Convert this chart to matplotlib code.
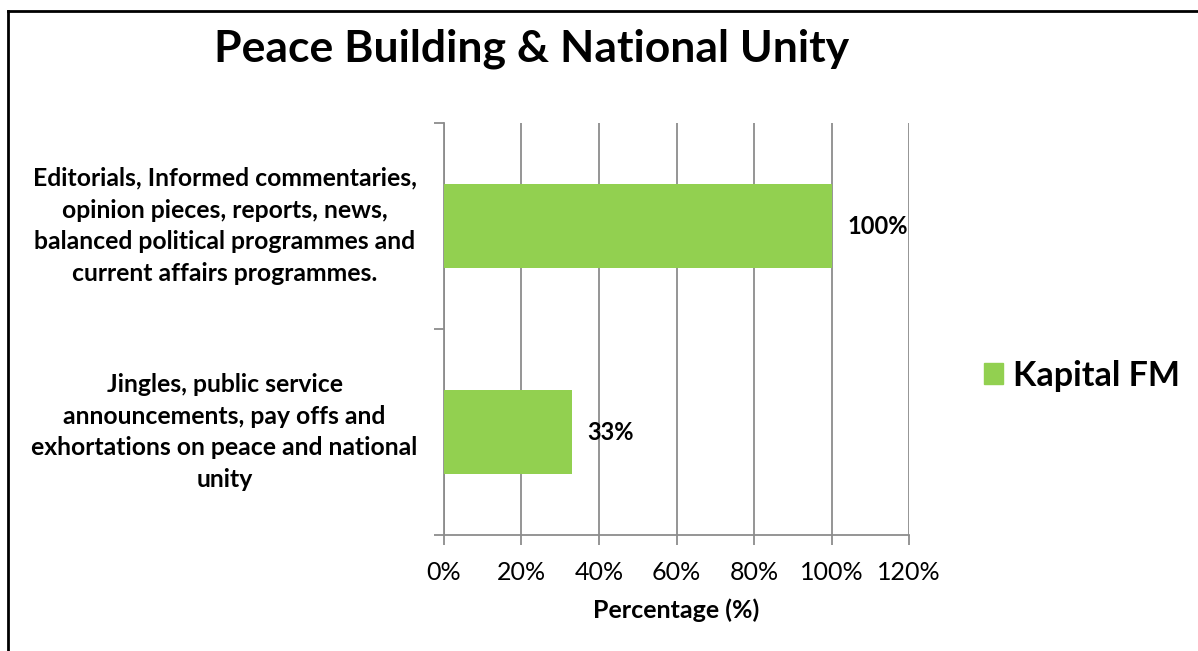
import matplotlib
matplotlib.use("Agg")
import matplotlib.pyplot as plt
from matplotlib.lines import Line2D
from matplotlib.patches import Patch

categories = [
    "Jingles, public service\nannouncements, pay offs and\nexhortations on peace and national\nunity",
    "Editorials, Informed commentaries,\nopinion pieces, reports, news,\nbalanced political programmes and\ncurrent affairs programmes.",
]
values = [33, 100]
series_name = "Kapital FM"
xticks = [0, 20, 40, 60, 80, 100, 120]

green = "#92D050"
grid_col = "#8c8c8c"
plt.rcParams['font.family'] = ['Lato', 'DejaVu Sans']

fig = plt.figure(figsize=(11.98, 6.51), dpi=100)
ax = fig.add_axes([0.3706, 0.1782, 0.3882, 0.6328])

ypos = list(range(len(categories)))
ax.barh(ypos, values, height=0.405, color=green, zorder=3)
for y, v in zip(ypos, values):
    ax.text(v + 4, y, f"{v}%", va="center", ha="left", fontsize=17,
            fontweight="bold", zorder=4)

ax.set_xlim(0, 120)
ax.set_ylim(-0.5, 1.5)
ax.set_xticks(xticks)
ax.set_xticklabels([f"{t}%" for t in xticks], fontsize=18)
ax.set_yticks(ypos)
ax.set_yticklabels(categories, fontsize=17.8, fontweight="bold",
                   ha="center", va="center", linespacing=1.47)
# pad is in points: puts the centre of the label block about 220 px left of the axis
ax.tick_params(axis="y", length=0, pad=158)
ax.set_yticks([-0.5, 0.5, 1.5], minor=True)
ax.tick_params(axis="y", which="minor", length=7, color=grid_col, width=1.3)
ax.tick_params(axis="x", length=7, color=grid_col, width=1.3, pad=12)

ax.grid(axis="x", color=grid_col, linewidth=1.3, zorder=0)
for s in ["top", "right"]:
    ax.spines[s].set_visible(False)
for s in ["left", "bottom"]:
    ax.spines[s].set_color(grid_col)
    ax.spines[s].set_linewidth(1.3)

ax.set_xlabel("Percentage (%)", fontsize=18, fontweight="bold", labelpad=10)

fig.text(0.4435, 0.925, "Peace Building & National Unity", ha="center",
         va="center", fontsize=32, fontweight="bold")

fig.legend(handles=[Patch(color=green, label=series_name)], loc="center left",
           bbox_to_anchor=(0.796, 0.423), frameon=False,
           prop={"weight": "bold", "size": 24.5}, handlelength=0.55,
           handleheight=0.55, handletextpad=0.3)

# outer frame: top and left edges only
fig.add_artist(Line2D([0.0067, 1.0], [0.983, 0.983], color="black", lw=2,
                      transform=fig.transFigure))
fig.add_artist(Line2D([0.0067, 0.0067], [0.0, 0.983], color="black", lw=2,
                      transform=fig.transFigure))

fig.savefig("out.png", dpi=100)
